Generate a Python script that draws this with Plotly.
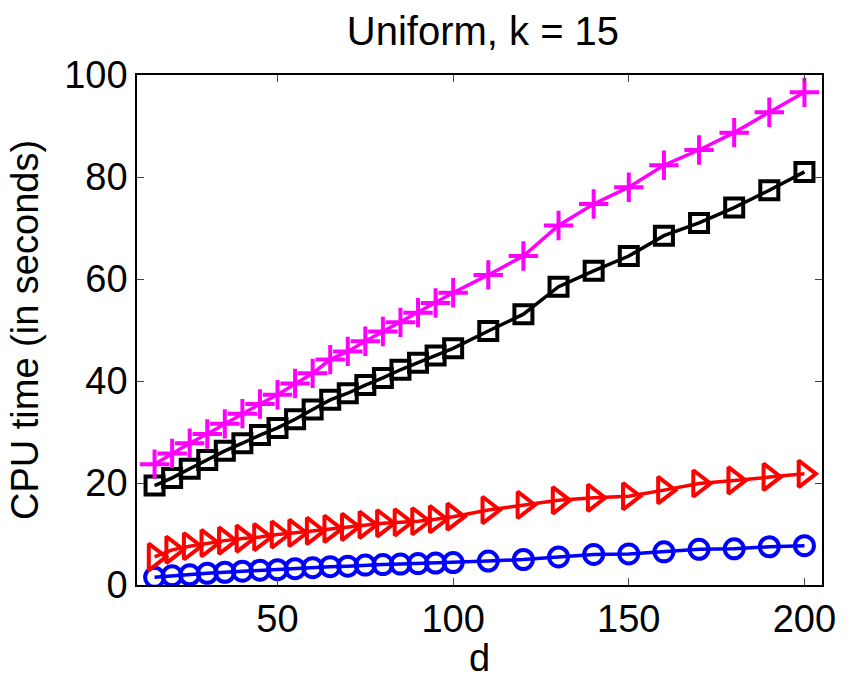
import plotly.graph_objects as go

d = [15, 20, 25, 30, 35, 40, 45, 50, 55, 60, 65, 70, 75, 80, 85, 90, 95, 100,
     110, 120, 130, 140, 150, 160, 170, 180, 190, 200]

plus_magenta = [23.7, 25.8, 27.8, 29.6, 31.6, 33.6, 35.5, 37.3, 39.5, 41.5, 44.2, 45.8,
                47.8, 49.7, 51.5, 53.4, 55.3, 57.3,
                60.8, 64.5, 70.5, 74.7, 78.0, 82.3, 85.3, 88.7, 92.7, 96.6]
square_black = [19.5, 21.0, 22.8, 24.5, 26.3, 27.8, 29.4, 30.8, 32.5, 34.4, 36.3, 37.6,
                39.2, 40.6, 42.2, 43.6, 45.0, 46.4,
                49.8, 53.1, 58.5, 61.6, 64.5, 68.5, 71.0, 74.0, 77.4, 81.0]
tri_red = [5.5, 6.9, 7.6, 8.2, 8.7, 9.1, 9.4, 9.9, 10.2, 10.6, 11.0, 11.4,
           11.8, 12.1, 12.3, 12.5, 12.9, 13.4,
           14.7, 15.7, 16.6, 17.1, 17.4, 18.6, 19.9, 20.5, 21.2, 21.8]
circle_blue = [1.5, 1.8, 2.0, 2.3, 2.5, 2.7, 2.9, 3.0, 3.2, 3.4, 3.6, 3.7,
               3.9, 4.0, 4.1, 4.2, 4.3, 4.4,
               4.7, 5.0, 5.5, 6.0, 6.1, 6.5, 7.0, 7.1, 7.5, 7.7]

x_ticks = [50, 100, 150, 200]
y_ticks = [0, 20, 40, 60, 80, 100]

FONT = "Liberation Sans, Arial, sans-serif"

fig = go.Figure()

def add(y, color, symbol, size):
    fig.add_trace(go.Scatter(
        x=d, y=y, mode="lines+markers",
        line=dict(color=color, width=3.5),
        marker=dict(symbol=symbol, size=size, color=color,
                    line=dict(color=color, width=4)),
        showlegend=False))

add(circle_blue, "#0000ff", "circle-open", 19)
add(tri_red, "#ff0000", "triangle-right-open", 23)
add(square_black, "#000000", "square-open", 18)
add(plus_magenta, "#ff00ff", "cross-thin-open", 21)

fig.update_layout(
    width=848, height=679,
    margin=dict(l=137, r=20, t=75, b=86),
    paper_bgcolor="white", plot_bgcolor="white",
    font=dict(family=FONT, color="black"),
    title=dict(text="Uniform, k = 15", x=0.5695, xanchor="center",
               y=0.955, yanchor="middle", font=dict(size=40, family=FONT)),
    xaxis=dict(range=[10, 205], tickvals=x_ticks, ticks="inside", ticklen=7,
               tickwidth=1, tickcolor="#444", showline=True, linecolor="black",
               linewidth=1.5, mirror="ticks", showgrid=False, zeroline=False,
               tickfont=dict(size=38), title=dict(text="d", font=dict(size=38), standoff=0)),
    yaxis=dict(range=[0, 100], tickvals=y_ticks, ticks="inside", ticklen=7,
               tickwidth=1, tickcolor="#444", showline=True, linecolor="black",
               linewidth=1.5, mirror="ticks", showgrid=False, zeroline=False,
               tickfont=dict(size=38),
               title=dict(text="CPU time (in seconds)", font=dict(size=38), standoff=14)),
)

fig.write_html("out.html")
